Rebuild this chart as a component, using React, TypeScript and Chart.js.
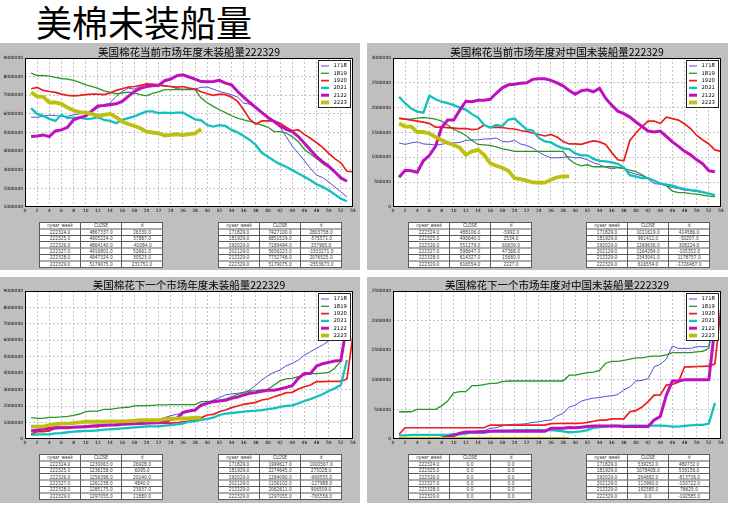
import React, { useEffect, useRef } from 'react';
import { Chart, registerables } from 'chart.js';

Chart.register(...registerables);

// ---------- categories ----------
const weeks = [1, 2, 3, 4, 5, 6, 7, 8, 9, 10, 11, 12, 13, 14, 15, 16, 17, 18, 19, 20, 21, 22, 23, 24, 25, 26, 27, 28, 29, 30, 31, 32, 33, 34, 35, 36, 37, 38, 39, 40, 41, 42, 43, 44, 45, 46, 47, 48, 49, 50, 51, 52, 53, 54];
const seasonLabels = ['1718', '1819', '1920', '2021', '2122', '2223'];
const seasonColors = ['#5050d8', '#2a962a', '#ee1c1c', '#12c0c0', '#bf10bf', '#bfbf10'];
const seasonWidths = [1, 1.3, 1.7, 2.3, 3, 3.8];

// ---------- 美国棉花当前市场年度未装船量 ----------
const cur1718 = [5820000, 5820000, 5870000, 5930000, 5910000, 5860000, 5870000, 5950000, 6000000, 6070000, 6130000, 6310000, 6490000, 6580000, 6940000, 7200000, 7380000, 7330000, 7470000, 7650000, 7560000, 7510000, 7510000, 7470000, 7350000, 7330000, 7330000, 7330000, 7427100, 7440000, 7330000, 7200000, 7120000, 7030000, 6900000, 6580000, 6520000, 6400000, 6130000, 5860000, 5620000, 5280000, 4780000, 4270000, 3880000, 3480000, 3070000, 2710000, 2580000, 2350000, 2080000, 1810000, 1540000];
const cur1819 = [8190000, 8050000, 8070000, 8030000, 7960000, 7900000, 7870000, 7800000, 7690000, 7560000, 7470000, 7370000, 7240000, 7150000, 7080000, 7120000, 7170000, 7120000, 7030000, 6970000, 7100000, 7180000, 7300000, 7300000, 7300000, 7300000, 7300000, 7300000, 6851529, 6600000, 6400000, 6220000, 6070000, 5900000, 5770000, 5680000, 5600000, 5500000, 5400000, 5280000, 5050000, 5050000, 4970000, 4780000, 4500000, 4100000, 3840000, 3600000, 3340000, 3120000, 2890000, 2620000, 2400000];
const cur1920 = [7350000, 7420000, 7260000, 7200000, 7150000, 7060000, 6990000, 6970000, 6990000, 7030000, 7060000, 7060000, 7030000, 7120000, 7260000, 7350000, 7440000, 7470000, 7530000, 7600000, 7600000, 7560000, 7500000, 7470000, 7440000, 7470000, 7380000, 7330000, 7189494, 7080000, 6990000, 7060000, 7030000, 6900000, 6670000, 6220000, 5710000, 5440000, 5620000, 5620000, 5620000, 5500000, 5280000, 5100000, 5140000, 4900000, 4690000, 4450000, 4200000, 3880000, 3600000, 3370000, 2920000, 2900000];
const cur2021 = [6310000, 6000000, 5890000, 5730000, 5620000, 5950000, 5770000, 5800000, 5800000, 5730000, 5750000, 5820000, 5680000, 5620000, 5500000, 5680000, 5770000, 5860000, 6000000, 6130000, 6130000, 6040000, 6070000, 6040000, 6070000, 6070000, 5890000, 5710000, 5656223, 5400000, 5320000, 5390000, 5350000, 5140000, 5010000, 4810000, 4600000, 4330000, 3910000, 3700000, 3480000, 3300000, 3160000, 2980000, 2800000, 2620000, 2440000, 2220000, 2080000, 1900000, 1680000, 1450000, 1310000];
const cur2122 = [4780000, 4810000, 4870000, 4780000, 5080000, 5140000, 5280000, 5680000, 5800000, 5890000, 6160000, 6430000, 6450000, 6490000, 6540000, 6670000, 6940000, 7200000, 7370000, 7470000, 7510000, 7530000, 7780000, 7870000, 8050000, 8100000, 7980000, 7870000, 7732748, 7730000, 7740000, 7800000, 7650000, 7560000, 7200000, 6900000, 6610000, 6340000, 6070000, 5800000, 5590000, 5350000, 5170000, 5050000, 4780000, 4420000, 4060000, 3700000, 3430000, 3190000, 2890000, 2560000, 2380000];
const cur2223 = [7150000, 6940000, 6920000, 6610000, 6610000, 6540000, 6340000, 6180000, 6090000, 6070000, 6000000, 5890000, 5950000, 6000000, 5820000, 5590000, 5460000, 5350000, 5230000, 5050000, 5000000, 4960000, 4841007, 4867337, 4905224, 4864140, 4916801, 4947324, 5179075];

// ---------- 美国棉花当前市场年度对中国未装船量 ----------
const cn1718 = [1290000, 1260000, 1290000, 1310000, 1270000, 1260000, 1250000, 1260000, 1290000, 1290000, 1300000, 1340000, 1350000, 1350000, 1370000, 1370000, 1390000, 1320000, 1310000, 1340000, 1270000, 1240000, 1190000, 1100000, 1040000, 990000, 990000, 1000000, 1011619, 990000, 990000, 950000, 890000, 850000, 800000, 770000, 790000, 770000, 700000, 660000, 630000, 560000, 470000, 460000, 430000, 390000, 370000, 340000, 330000, 310000, 290000, 270000, 220000];
const cn1819 = [1780000, 1770000, 1770000, 1790000, 1800000, 1790000, 1770000, 1730000, 1650000, 1560000, 1510000, 1440000, 1340000, 1260000, 1250000, 1240000, 1210000, 1170000, 1150000, 1120000, 1120000, 1120000, 1120000, 1120000, 1120000, 1120000, 1120000, 1120000, 961412, 870000, 830000, 850000, 810000, 810000, 810000, 810000, 800000, 780000, 740000, 710000, 650000, 580000, 530000, 470000, 430000, 320000, 290000, 290000, 270000, 260000, 240000, 220000, 210000];
const cn1920 = [1790000, 1770000, 1750000, 1730000, 1710000, 1680000, 1610000, 1610000, 1600000, 1590000, 1580000, 1580000, 1560000, 1570000, 1650000, 1600000, 1610000, 1600000, 1580000, 1570000, 1540000, 1520000, 1490000, 1460000, 1430000, 1460000, 1410000, 1320000, 1269636, 1270000, 1260000, 1300000, 1330000, 1310000, 1260000, 1100000, 950000, 930000, 1340000, 1490000, 1620000, 1730000, 1730000, 1680000, 1810000, 1780000, 1750000, 1670000, 1580000, 1440000, 1350000, 1270000, 1150000, 1120000];
const cn2021 = [2220000, 2090000, 1980000, 1920000, 1900000, 2240000, 2170000, 2120000, 2090000, 2050000, 2000000, 1960000, 1870000, 1800000, 1650000, 1600000, 1650000, 1630000, 1760000, 1780000, 1670000, 1560000, 1540000, 1390000, 1320000, 1300000, 1230000, 1180000, 1164284, 1080000, 1040000, 1040000, 970000, 930000, 920000, 900000, 870000, 800000, 640000, 610000, 580000, 580000, 530000, 470000, 450000, 430000, 390000, 360000, 340000, 330000, 300000, 270000, 240000];
const cn2122 = [600000, 740000, 730000, 700000, 930000, 1040000, 1220000, 1600000, 1750000, 1750000, 1950000, 2130000, 2120000, 2150000, 2150000, 2170000, 2290000, 2400000, 2460000, 2470000, 2490000, 2500000, 2570000, 2580000, 2580000, 2550000, 2500000, 2440000, 2343041, 2270000, 2340000, 2360000, 2320000, 2390000, 2190000, 2050000, 1930000, 1880000, 1810000, 1710000, 1620000, 1530000, 1510000, 1530000, 1420000, 1310000, 1220000, 1120000, 1050000, 950000, 870000, 730000, 710000];
const cn2223 = [1680000, 1620000, 1620000, 1510000, 1510000, 1480000, 1410000, 1350000, 1290000, 1250000, 1190000, 1050000, 1120000, 1150000, 1050000, 880000, 830000, 790000, 730000, 580000, 560000, 530000, 494098, 488106, 490640, 551279, 598647, 614327, 616554];

// ---------- 美国棉花下一个市场年度未装船量 ----------
const nx1718 = [280000, 450000, 490000, 490000, 610000, 650000, 690000, 730000, 750000, 810000, 810000, 850000, 890000, 890000, 890000, 930000, 970000, 1010000, 1050000, 1090000, 1140000, 1200000, 1300000, 1420000, 1500000, 1560000, 1660000, 1760000, 1999617, 2110000, 2370000, 2510000, 2680000, 2740000, 2780000, 2820000, 2980000, 3280000, 3590000, 3850000, 4050000, 4200000, 4460000, 4600000, 4800000, 5110000, 5310000, 5510000, 5720000, 5960000, 6200000, 6450000, 6700000];
const nx1819 = [1300000, 1260000, 1260000, 1320000, 1320000, 1340000, 1380000, 1440000, 1520000, 1660000, 1700000, 1700000, 1800000, 1800000, 1860000, 1910000, 1930000, 2010000, 2030000, 2030000, 2050000, 2070000, 2070000, 2090000, 2090000, 2090000, 2090000, 2090000, 2274645, 2270000, 2310000, 2370000, 2430000, 2570000, 2720000, 2840000, 2920000, 2940000, 2980000, 3020000, 3280000, 3530000, 3650000, 3690000, 3790000, 3890000, 3970000, 3970000, 4010000, 4050000, 4300000, 4740000, 6800000];
const nx1920 = [280000, 450000, 450000, 490000, 710000, 710000, 710000, 730000, 750000, 750000, 750000, 750000, 810000, 850000, 870000, 890000, 910000, 930000, 930000, 950000, 950000, 950000, 970000, 970000, 990000, 1050000, 1090000, 1140000, 1284090, 1460000, 1500000, 1660000, 1760000, 1910000, 2010000, 2110000, 2170000, 2230000, 2370000, 2430000, 2570000, 2680000, 2820000, 2840000, 3040000, 3180000, 3280000, 3490000, 3490000, 3510000, 3510000, 3510000, 3650000, 6320000];
const nx2021 = [240000, 280000, 280000, 280000, 340000, 360000, 410000, 450000, 470000, 490000, 490000, 530000, 570000, 590000, 610000, 650000, 670000, 710000, 730000, 770000, 770000, 770000, 810000, 850000, 890000, 930000, 1050000, 1090000, 1156102, 1220000, 1300000, 1460000, 1540000, 1580000, 1620000, 1660000, 1700000, 1720000, 1760000, 1820000, 1860000, 1950000, 2010000, 2050000, 2170000, 2310000, 2430000, 2570000, 2720000, 2920000, 3080000, 3280000, 4800000];
const nx2122 = [490000, 550000, 610000, 650000, 690000, 690000, 690000, 710000, 730000, 750000, 790000, 810000, 830000, 850000, 850000, 890000, 910000, 930000, 950000, 970000, 990000, 1010000, 1050000, 1180000, 1260000, 1620000, 1700000, 1760000, 2062611, 2170000, 2270000, 2310000, 2350000, 2470000, 2550000, 2680000, 2780000, 2820000, 2900000, 2960000, 2960000, 3040000, 3140000, 3240000, 3690000, 3990000, 3990000, 4440000, 4580000, 4660000, 4740000, 4780000, 7000000];
const nx2223 = [750000, 750000, 750000, 850000, 910000, 930000, 930000, 970000, 1010000, 1050000, 1050000, 1050000, 1050000, 1070000, 1070000, 1070000, 1090000, 1110000, 1140000, 1140000, 1140000, 1140000, 1203135, 1230063, 1236158, 1256398, 1261238, 1285175, 1297055];

// ---------- 美国棉花下一个市场年度对中国未装船量 ----------
const nc1718 = [10000, 5000, 5000, 5000, 5000, 5000, 20000, 30000, 60000, 80000, 80000, 110000, 120000, 140000, 140000, 180000, 190000, 220000, 240000, 250000, 250000, 260000, 280000, 290000, 310000, 320000, 390000, 430000, 539252, 570000, 640000, 670000, 690000, 700000, 720000, 730000, 750000, 830000, 880000, 980000, 990000, 1020000, 1220000, 1260000, 1350000, 1570000, 1530000, 1530000, 1530000, 1560000, 1560000, 1560000, 2200000];
const nc1819 = [460000, 460000, 460000, 500000, 500000, 500000, 500000, 560000, 640000, 780000, 800000, 800000, 900000, 900000, 920000, 940000, 940000, 970000, 980000, 980000, 980000, 980000, 980000, 980000, 980000, 980000, 980000, 980000, 1078408, 1080000, 1100000, 1120000, 1130000, 1160000, 1280000, 1310000, 1310000, 1330000, 1350000, 1370000, 1370000, 1390000, 1400000, 1400000, 1420000, 1460000, 1460000, 1460000, 1460000, 1470000, 1480000, 1530000, 2100000];
const nc1920 = [80000, 190000, 190000, 190000, 190000, 190000, 190000, 190000, 190000, 190000, 190000, 190000, 190000, 190000, 190000, 235000, 235000, 235000, 235000, 235000, 235000, 235000, 235000, 235000, 235000, 260000, 262000, 263000, 264682, 265000, 266000, 280000, 300000, 320000, 320000, 340000, 340000, 340000, 460000, 480000, 540000, 630000, 740000, 745000, 910000, 920000, 960000, 1220000, 1220000, 1225000, 1228000, 1230000, 1270000, 2230000];
const nc2021 = [60000, 60000, 70000, 70000, 70000, 70000, 70000, 70000, 70000, 80000, 80000, 90000, 110000, 110000, 110000, 130000, 140000, 140000, 140000, 150000, 150000, 150000, 150000, 150000, 150000, 150000, 140000, 130000, 113960, 120000, 130000, 150000, 190000, 200000, 210000, 220000, 220000, 220000, 225000, 225000, 225000, 225000, 225000, 225000, 220000, 210000, 210000, 220000, 230000, 240000, 240000, 260000, 610000];
const nc2122 = [0, 0, 0, 0, 0, 0, 0, 10000, 40000, 60000, 100000, 120000, 120000, 120000, 120000, 130000, 130000, 130000, 130000, 130000, 130000, 130000, 130000, 130000, 130000, 180000, 180000, 180000, 192585, 190000, 200000, 210000, 220000, 220000, 220000, 220000, 220000, 210000, 210000, 210000, 210000, 210000, 320000, 380000, 740000, 980000, 980000, 1000000, 1000000, 1000000, 1000000, 1000000, 1900000];
const nc2223 = [0, 0, 0, 0, 0, 0, 0, 0, 0, 0, 0, 0, 0, 0, 0, 0, 0, 0, 0, 0, 0, 0, 0, 0, 0, 0, 0, 0, 0];

// ---------- tables ----------
const tableHeader = ['nyear_week', 'CLOSE', 'd'];
const curTableA = [
  ['222324.0', '4867337.0', '26330.0'],
  ['222325.0', '4905224.0', '37887.0'],
  ['222326.0', '4864140.0', '-41084.0'],
  ['222327.0', '4916801.0', '52661.0'],
  ['222328.0', '4947324.0', '30523.0'],
  ['222329.0', '5179075.0', '231751.0'],
];
const curTableB = [
  ['171829.0', '7427100.0', '2803758.0'],
  ['181929.0', '6851529.0', '-575571.0'],
  ['192029.0', '7189494.0', '337965.0'],
  ['202129.0', '5656223.0', '-1533271.0'],
  ['212229.0', '7732748.0', '2076525.0'],
  ['222329.0', '5179075.0', '-2553673.0'],
];
const cnTableA = [
  ['222324.0', '488106.0', '-5992.0'],
  ['222325.0', '490640.0', '2534.0'],
  ['222326.0', '551279.0', '60639.0'],
  ['222327.0', '598647.0', '47368.0'],
  ['222328.0', '614327.0', '15680.0'],
  ['222329.0', '616554.0', '2227.0'],
];
const cnTableB = [
  ['171829.0', '1011619.0', '414586.0'],
  ['181929.0', '961412.0', '-50207.0'],
  ['192029.0', '1269636.0', '308224.0'],
  ['202129.0', '1164284.0', '-105352.0'],
  ['212229.0', '2343041.0', '1178757.0'],
  ['222329.0', '616554.0', '-1726487.0'],
];
const nxTableA = [
  ['222324.0', '1230063.0', '26928.0'],
  ['222325.0', '1236158.0', '6095.0'],
  ['222326.0', '1256398.0', '20240.0'],
  ['222327.0', '1261238.0', '4840.0'],
  ['222328.0', '1285175.0', '23937.0'],
  ['222329.0', '1297055.0', '11880.0'],
];
const nxTableB = [
  ['171829.0', '1999617.0', '1000567.0'],
  ['181929.0', '2274645.0', '275028.0'],
  ['192029.0', '1284090.0', '-990555.0'],
  ['202129.0', '1156102.0', '-127988.0'],
  ['212229.0', '2062611.0', '906509.0'],
  ['222329.0', '1297055.0', '-765556.0'],
];
const ncTableA = [
  ['222324.0', '0.0', '0.0'],
  ['222325.0', '0.0', '0.0'],
  ['222326.0', '0.0', '0.0'],
  ['222327.0', '0.0', '0.0'],
  ['222328.0', '0.0', '0.0'],
  ['222329.0', '0.0', '0.0'],
];
const ncTableB = [
  ['171829.0', '539252.0', '480732.0'],
  ['181929.0', '1078408.0', '539156.0'],
  ['192029.0', '264682.0', '-813726.0'],
  ['202129.0', '113960.0', '-150722.0'],
  ['212229.0', '192585.0', '78625.0'],
  ['222329.0', '0.0', '-192585.0'],
];

const pageTitle = '美棉未装船量';
const titleCur = '美国棉花当前市场年度未装船量222329';
const titleCn = '美国棉花当前市场年度对中国未装船量222329';
const titleNx = '美国棉花下一个市场年度未装船量222329';
const titleNc = '美国棉花下一个市场年度对中国未装船量222329';

const CJK = '"Noto Sans CJK SC", "Noto Sans", sans-serif';
const TICK_FONT = 'DejaVu Sans';

const mplPlugin = {
  id: 'mpl',
  beforeDraw(chart: any) {
    const { ctx, chartArea: a } = chart;
    ctx.save();
    ctx.fillStyle = '#ffffff';
    ctx.fillRect(a.left, a.top, a.right - a.left, a.bottom - a.top);
    ctx.restore();
  },
  afterDraw(chart: any, _args: any, opts: any) {
    const { ctx, chartArea: a } = chart;
    ctx.save();
    // frame
    ctx.strokeStyle = '#000';
    ctx.lineWidth = 1;
    const l = Math.round(a.left) + 0.5;
    const t = Math.round(a.top) + 0.5;
    const r = Math.round(a.right) - 0.5;
    const b = Math.round(a.bottom) - 0.5;
    ctx.strokeRect(l, t, r - l, b - t);
    // legend
    const bw = 32;
    const bh = 47;
    const bx = Math.round(a.right - 3 - bw) + 0.5;
    const by = Math.round(a.top + 2) + 0.5;
    ctx.fillStyle = '#fff';
    ctx.fillRect(bx, by, bw, bh);
    ctx.strokeStyle = '#222';
    ctx.lineWidth = 1;
    ctx.strokeRect(bx, by, bw, bh);
    chart.data.datasets.forEach((ds: any, i: number) => {
      const y = by + 5.5 + i * 7.3;
      ctx.strokeStyle = ds.borderColor;
      ctx.lineWidth = ds.borderWidth;
      ctx.beginPath();
      ctx.moveTo(bx + 2.5, y);
      ctx.lineTo(bx + 10.5, y);
      ctx.stroke();
      ctx.fillStyle = '#000';
      ctx.font = `5.3px "${TICK_FONT}"`;
      ctx.textBaseline = 'middle';
      ctx.textAlign = 'left';
      ctx.fillText(ds.label, bx + 15, y);
    });
    // title
    ctx.fillStyle = '#000';
    ctx.font = `10.5px ${CJK}`;
    ctx.textAlign = 'center';
    ctx.textBaseline = 'middle';
    ctx.fillText(opts.text, (a.left + a.right) / 2, a.top - 5.5);
    ctx.restore();
  },
};

type PanelProps = {
  left: number;
  top: number;
  width: number;
  height: number;
  padTop: number;
  padRight: number;
  yWidth: number;
  xHeight: number;
  yMin: number;
  yMax: number;
  yStep: number;
  title: string;
  series: number[][];
};

function PanelChart(p: PanelProps) {
  const ref = useRef<HTMLCanvasElement>(null);
  useEffect(() => {
    if (!ref.current) return;
    const datasets = p.series.map((vals, i) => ({
      label: seasonLabels[i],
      data: vals.map((v, j) => ({ x: weeks[j], y: v })),
      borderColor: seasonColors[i],
      backgroundColor: seasonColors[i],
      borderWidth: seasonWidths[i],
      pointRadius: 0,
      fill: false,
      tension: 0,
      order: 6 - i,
    }));
    const chart = new Chart(ref.current, {
      type: 'line',
      data: { datasets },
      plugins: [mplPlugin as any],
      options: {
        responsive: false,
        animation: false,
        layout: { padding: { top: p.padTop, right: p.padRight, left: 0, bottom: 0 } },
        plugins: {
          legend: { display: false },
          title: { display: false },
          tooltip: { enabled: false },
          mpl: { text: p.title },
        } as any,
        scales: {
          x: {
            type: 'linear',
            min: 0,
            max: 54,
            ticks: {
              stepSize: 2,
              autoSkip: false,
              maxRotation: 0,
              padding: 1,
              color: '#000',
              font: { size: 4.4, family: TICK_FONT },
              callback: (v: any) => String(v),
            },
            grid: { color: '#c4c4c4', lineWidth: 1, drawTicks: false },
            border: { display: false, dash: [2, 2] },
            afterFit: (s: any) => {
              s.height = p.xHeight;
            },
          },
          y: {
            type: 'linear',
            min: p.yMin,
            max: p.yMax,
            ticks: {
              stepSize: p.yStep,
              padding: 2,
              color: '#000',
              font: { size: 4.4, family: TICK_FONT },
              callback: (v: any) => String(v),
            },
            grid: { color: '#c4c4c4', lineWidth: 1, drawTicks: false },
            border: { display: false, dash: [2, 2] },
            afterFit: (s: any) => {
              s.width = p.yWidth;
            },
          },
        },
      } as any,
    });
    return () => chart.destroy();
  }, []);
  return (
    <canvas
      ref={ref}
      width={p.width}
      height={p.height}
      style={{ position: 'absolute', left: p.left, top: p.top, width: p.width, height: p.height }}
    />
  );
}

function DataTable({ left, top, rows }: { left: number; top: number; rows: string[][] }) {
  const cell: React.CSSProperties = {
    border: '2px solid #5a5a5a',
    padding: 0,
    height: 10.8,
    lineHeight: '10px',
    textAlign: 'center',
    width: 80,
    whiteSpace: 'nowrap',
  };
  return (
    <div
      style={{
        position: 'absolute',
        left,
        top,
        width: 242,
        transform: 'scale(0.5)',
        transformOrigin: '0 0',
      }}
    >
      <table
        style={{
          borderCollapse: 'collapse',
          width: 242,
          background: '#fff',
          fontFamily: TICK_FONT,
          fontSize: 8.6,
          color: '#333',
          tableLayout: 'fixed',
        }}
      >
        <tbody>
          <tr>
            {tableHeader.map((h) => (
              <td key={h} style={cell}>
                {h}
              </td>
            ))}
          </tr>
          {rows.map((r, i) => (
            <tr key={i}>
              {r.map((c, j) => (
                <td key={j} style={cell}>
                  {c}
                </td>
              ))}
            </tr>
          ))}
        </tbody>
      </table>
    </div>
  );
}

const panelBg = '#bfbfbf';

export default function App() {
  return (
    <div style={{ position: 'absolute', left: 0, top: 0, width: 738, height: 510, background: '#fff', overflow: 'hidden' }}>
      <div
        style={{
          position: 'absolute',
          left: 36,
          top: 3,
          fontFamily: CJK,
          fontSize: 36,
          lineHeight: '36px',
          color: '#000',
          whiteSpace: 'nowrap',
        }}
      >
        {pageTitle}
      </div>

      <div style={{ position: 'absolute', left: 0, top: 43, width: 360, height: 227, background: panelBg }} />
      <div style={{ position: 'absolute', left: 367, top: 43, width: 361, height: 227, background: panelBg }} />
      <div style={{ position: 'absolute', left: 0, top: 277, width: 360, height: 226, background: panelBg }} />
      <div style={{ position: 'absolute', left: 367, top: 277, width: 361, height: 226, background: panelBg }} />

      <PanelChart
        left={0} top={43} width={360} height={175}
        padTop={15} padRight={7} yWidth={25} xHeight={11}
        yMin={1000000} yMax={9000000} yStep={1000000}
        title={titleCur}
        series={[cur1718, cur1819, cur1920, cur2021, cur2122, cur2223]}
      />
      <PanelChart
        left={367} top={43} width={361} height={175}
        padTop={15} padRight={7} yWidth={26} xHeight={11}
        yMin={0} yMax={3000000} yStep={500000}
        title={titleCn}
        series={[cn1718, cn1819, cn1920, cn2021, cn2122, cn2223]}
      />
      <PanelChart
        left={0} top={277} width={360} height={173}
        padTop={14} padRight={7} yWidth={25} xHeight={11}
        yMin={0} yMax={9000000} yStep={1000000}
        title={titleNx}
        series={[nx1718, nx1819, nx1920, nx2021, nx2122, nx2223]}
      />
      <PanelChart
        left={367} top={277} width={361} height={173}
        padTop={14} padRight={7} yWidth={26} xHeight={11}
        yMin={0} yMax={2500000} yStep={500000}
        title={titleNc}
        series={[nc1718, nc1819, nc1920, nc2021, nc2122, nc2223]}
      />

      <DataTable left={39} top={222} rows={curTableA} />
      <DataTable left={218} top={222} rows={curTableB} />
      <DataTable left={408} top={222} rows={cnTableA} />
      <DataTable left={586} top={222} rows={cnTableB} />
      <DataTable left={39} top={454} rows={nxTableA} />
      <DataTable left={218} top={454} rows={nxTableB} />
      <DataTable left={408} top={454} rows={ncTableA} />
      <DataTable left={586} top={454} rows={ncTableB} />
    </div>
  );
}
